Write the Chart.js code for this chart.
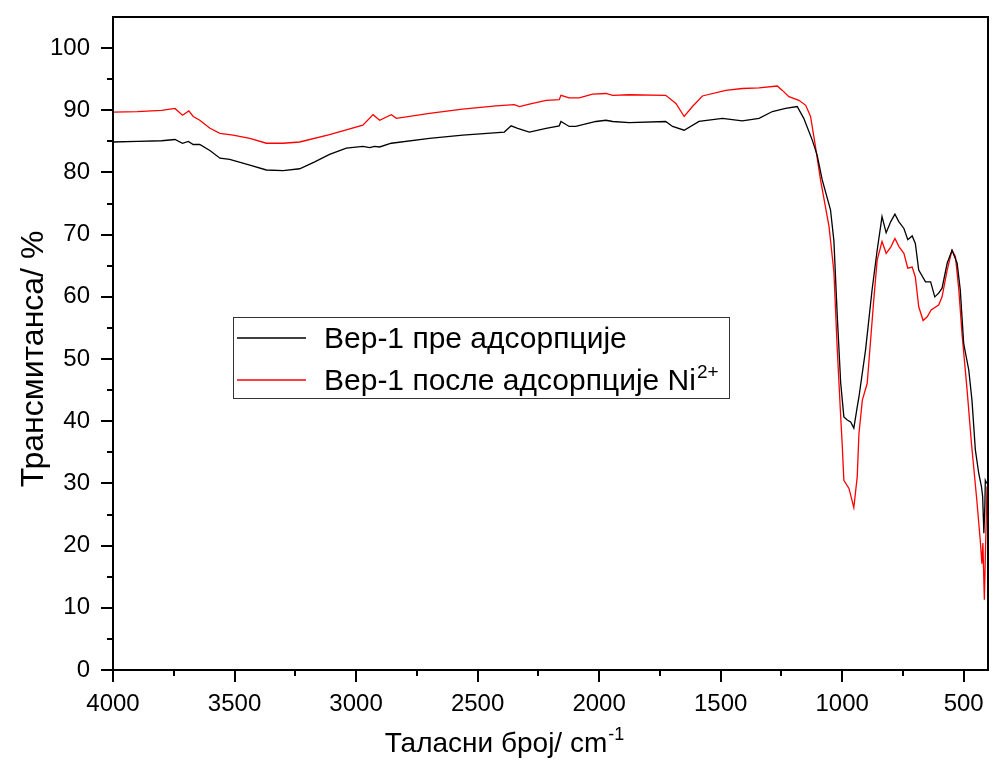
<!DOCTYPE html>
<html><head><meta charset="utf-8">
<script src="https://cdn.jsdelivr.net/npm/chart.js@4/dist/chart.umd.min.js"></script>
<style>html,body{margin:0;padding:0;background:#fff;}#wrap{width:1003px;height:762px;}</style>
</head><body><div id="wrap"><canvas id="c" width="1003" height="762"></canvas></div>
<script>
// ---- data ----
const wnBefore = [4000,3900,3800,3745,3714,3690,3670,3643,3600,3560,3520,3437,3369,3300,3232,3170,3109,3040,2972,2944,2924,2903,2855,2698,2561,2390,2362,2335,2287,2218,2164,2157,2123,2096,2013,1972,1944,1876,1726,1698,1650,1589,1493,1411,1342,1287,1233,1185,1158,1123,1103,1082,1048,1034,1020,1006,993,979,965,952,938,931,904,877,856,836,819,800,783,767,746,730,712,699,685,657,636,619,603,589,568,548,527,514,500,479,466,452,438,427,422,417,413,411,405];
const tBefore = [84.9,85.0,85.1,85.3,84.7,85.0,84.5,84.5,83.5,82.3,82.1,81.2,80.4,80.3,80.6,81.7,82.9,83.9,84.2,84.0,84.2,84.1,84.7,85.5,86.0,86.5,87.5,87.1,86.5,87.1,87.5,88.2,87.4,87.4,88.2,88.4,88.2,88.0,88.2,87.4,86.8,88.2,88.7,88.3,88.7,89.8,90.3,90.6,88.7,85.2,82.8,78.8,74.0,69.0,56.8,46.1,40.7,40.2,39.9,38.9,42.3,43.9,51.4,61.1,67.5,72.9,70.3,72.1,73.3,72.1,71.0,69.2,69.8,68.6,64.3,62.4,62.4,60.0,60.6,61.4,65.4,67.5,65.4,61.1,52.5,48.2,43.4,35.4,31.6,29.5,27.9,22.0,26.3,30.5,30.0];
const wnAfter = [4000,3900,3800,3745,3714,3688,3670,3643,3601,3560,3506,3437,3369,3300,3232,3109,2972,2930,2903,2855,2834,2698,2562,2424,2349,2328,2287,2218,2164,2157,2123,2082,2027,1972,1944,1876,1726,1684,1650,1616,1575,1479,1411,1342,1267,1246,1219,1178,1150,1130,1110,1089,1054,1034,1020,1006,1000,993,972,952,938,931,917,897,870,856,836,819,800,783,765,746,730,712,699,685,667,650,634,603,589,568,548,534,520,507,486,468,446,432,425,421,415,411,404];
const tAfter = [89.7,89.8,90.0,90.3,89.2,89.9,89.0,88.4,87.1,86.3,86.0,85.5,84.7,84.7,84.9,86.1,87.6,89.3,88.4,89.3,88.7,89.5,90.2,90.7,90.9,90.6,91.0,91.6,91.7,92.4,92.0,92.0,92.6,92.7,92.4,92.5,92.4,91.1,89.0,90.6,92.3,93.2,93.5,93.6,93.9,93.2,92.2,91.6,90.8,89.0,84.2,78.8,71.3,64.0,51.4,40.7,36.4,30.5,29.2,26.1,31.1,38.0,43.4,46.1,59.5,65.9,68.9,67.0,68.0,69.4,68.0,67.0,64.6,64.8,63.2,58.4,56.2,56.8,57.9,58.7,60.0,64.3,67.5,66.5,61.1,54.1,45.0,36.4,27.3,20.9,17.1,20.4,11.3,18.2,29.5];
const xTicks = [4000,3500,3000,2500,2000,1500,1000,500];
const yTicks = [0,10,20,30,40,50,60,70,80,90,100];
const seriesLabels = ['Вер-1 пре адсорпције','Вер-1 после адсорпције Ni'];
const seriesSup = ['', '2+'];
const seriesColors = ['#000000','#ff0000'];
const xTitle = 'Таласни број/ cm';
const xTitleSup = '-1';
const yTitle = 'Трансмитанса/ %';

const FONT = '"Liberation Sans", Arial, sans-serif';

const framePlugin = {
  id: 'frame',
  afterDraw(chart) {
    const ctx = chart.ctx, a = chart.chartArea;
    const xs = chart.scales.x, ys = chart.scales.y;
    ctx.save();
    ctx.strokeStyle = '#000';
    ctx.lineWidth = 2;
    ctx.strokeRect(a.left, a.top, a.right - a.left, a.bottom - a.top);
    ctx.beginPath();
    xTicks.forEach((v) => {
      const p = Math.round(xs.getPixelForValue(v));
      ctx.moveTo(p, a.bottom); ctx.lineTo(p, a.bottom + 12);
      const m = v - 250;
      if (m >= xs.min) { const q = Math.round(xs.getPixelForValue(m)); ctx.moveTo(q, a.bottom); ctx.lineTo(q, a.bottom + 6); }
    });
    yTicks.forEach(v => {
      const p = Math.round(ys.getPixelForValue(v));
      ctx.moveTo(a.left, p); ctx.lineTo(a.left - 12, p);
      const m = v + 5;
      if (m < ys.max) { const q = Math.round(ys.getPixelForValue(m)); ctx.moveTo(a.left, q); ctx.lineTo(a.left - 6, q); }
    });
    ctx.stroke();

    ctx.fillStyle = '#000';
    ctx.textBaseline = 'alphabetic';
    // x title
    ctx.font = '28px ' + FONT;
    const w1 = ctx.measureText(xTitle).width;
    ctx.font = '18px ' + FONT;
    const w2 = ctx.measureText(xTitleSup).width;
    const xl = 504 - (w1 + w2) / 2;
    ctx.font = '28px ' + FONT;
    ctx.textAlign = 'left';
    ctx.fillText(xTitle, xl, 752);
    ctx.font = '18px ' + FONT;
    ctx.fillText(xTitleSup, xl + w1 + 1, 740);
    // y title
    ctx.save();
    ctx.translate(43, 359);
    ctx.rotate(-Math.PI / 2);
    ctx.font = '32px ' + FONT;
    ctx.textAlign = 'center';
    ctx.fillText(yTitle, 0, 0);
    ctx.restore();

    // legend
    ctx.lineWidth = 1;
    ctx.strokeStyle = '#333';
    ctx.strokeRect(233.5, 317.5, 496, 81);
    const rows = [{y: 338, base: 348}, {y: 380, base: 390}];
    chart.data.datasets.forEach((ds, i) => {
      ctx.strokeStyle = ds.borderColor;
      ctx.lineWidth = 1.3;
      ctx.beginPath();
      ctx.moveTo(237, rows[i].y); ctx.lineTo(306, rows[i].y);
      ctx.stroke();
      ctx.fillStyle = '#000';
      ctx.font = '30px ' + FONT;
      ctx.textAlign = 'left';
      ctx.fillText(ds.label, 324, rows[i].base);
      if (seriesSup[i]) {
        const w = ctx.measureText(ds.label).width;
        ctx.font = '19px ' + FONT;
        ctx.fillText(seriesSup[i], 324 + w + 1, rows[i].base - 12);
      }
    });
    ctx.restore();
  }
};

const datasets = seriesLabels.map((lab, i) => {
  const wn = i === 0 ? wnBefore : wnAfter;
  const t = i === 0 ? tBefore : tAfter;
  return {
    label: lab,
    data: wn.map((x, k) => ({x: x, y: t[k]})),
    borderColor: seriesColors[i],
    backgroundColor: seriesColors[i],
    borderWidth: 1.3,
    pointRadius: 0,
    tension: 0,
    fill: false
  };
});
datasets[0].order = 0; datasets[1].order = 1;

function zeroPad(s) { s.paddingTop = 0; s.paddingBottom = 0; s.paddingLeft = 0; s.paddingRight = 0; }

new Chart(document.getElementById('c'), {
  type: 'line',
  data: { datasets },
  options: {
    responsive: false,
    animation: false,
    devicePixelRatio: 1,
    layout: { padding: { left: 0, top: 17, right: 15, bottom: 0 } },
    plugins: { legend: { display: false }, tooltip: { enabled: false } },
    scales: {
      x: {
        type: 'linear', reverse: true, min: 400, max: 4000,
        afterFit(s) { s.height = 92; zeroPad(s); },
        afterBuildTicks(s) { s.ticks = xTicks.map(v => ({value: v})); },
        grid: { display: false, drawTicks: false },
        border: { display: false },
        ticks: { color: '#000', font: { family: FONT, size: 24 }, padding: 20, maxRotation: 0, autoSkip: false,
                 callback: v => String(v) }
      },
      y: {
        type: 'linear', min: 0, max: 105,
        afterFit(s) { s.width = 113; zeroPad(s); },
        afterBuildTicks(s) { s.ticks = yTicks.map(v => ({value: v})); },
        grid: { display: false, drawTicks: false },
        border: { display: false },
        ticks: { color: '#000', font: { family: FONT, size: 24 }, padding: 23, callback: v => String(v) }
      }
    }
  },
  plugins: [framePlugin]
});
</script></body></html>
